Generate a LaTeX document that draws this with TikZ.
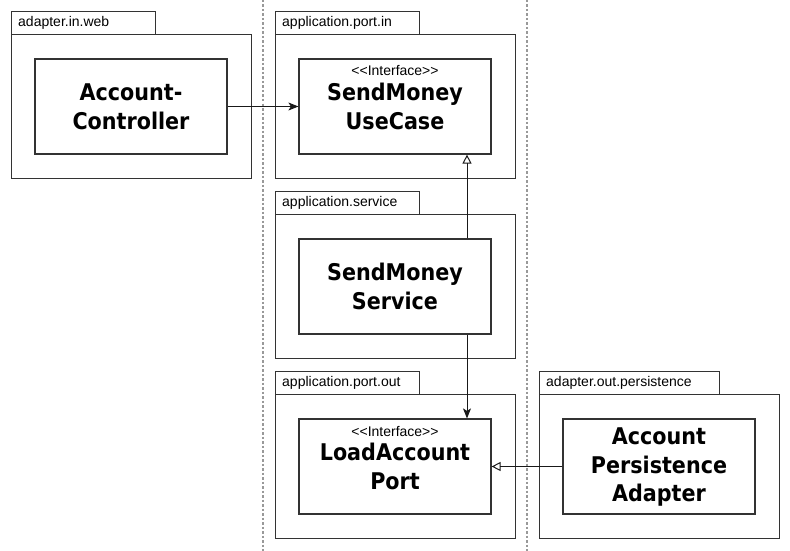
\documentclass[tikz,border=0pt]{standalone}
\usepackage{fontspec}
\setmainfont{Liberation Sans}
\newfontfamily\namefont{DejaVu Sans Condensed}
\usetikzlibrary{arrows.meta}
\definecolor{edge}{HTML}{333333}
\tikzset{
  x=1pt, y=-1pt,
  pkgline/.style={draw=edge, line width=1.2pt, fill=white},
  pkgtab/.style={pkgline, rectangle, minimum width=144pt, minimum height=23pt, inner sep=0pt},
  pkgbody/.style={pkgline, rectangle, minimum width=240pt, minimum height=144pt, inner sep=0pt},
  pkgname/.style={anchor=west, font=\fontsize{14}{16}\selectfont, inner sep=0pt},
  classbox/.style={pkgline, rectangle, minimum width=192pt, minimum height=95pt, inner sep=0pt},
  classname/.style={font=\namefont\bfseries\fontsize{23}{28.5}\selectfont, align=center, inner sep=0pt},
  stereo/.style={font=\fontsize{14}{15}\selectfont, inner sep=0pt},
  layer/.style={draw=gray!80, line width=1.2pt, dash pattern=on 2.5pt off 2pt},
  uses/.style={draw=black!90, line width=1pt, -{Stealth[length=10pt, width=8pt, inset=2.5pt]}},
  realizes/.style={draw=black!90, line width=1pt, -{Triangle[open, length=9pt, width=9pt]}}
}
\begin{document}
\begin{tikzpicture}
\useasboundingbox (0,0) rectangle (790,551);

% layer separators
\coordinate (sepAtop) at (263,0);
\coordinate (sepAbot) at (263,551);
\coordinate (sepBtop) at (527,0);
\coordinate (sepBbot) at (527,551);
\draw[layer] (sepAtop) -- (sepAbot);
\draw[layer] (sepBtop) -- (sepBbot);

% packages: tab + body
\node[pkgtab, anchor=north west] (webTab) at (11,11) {};
\node[pkgbody, anchor=north west] (web) at (11,34) {};
\node[pkgname] at (18,22.5) {adapter.in.web};

\node[pkgtab, anchor=north west] (portInTab) at (275,11) {};
\node[pkgbody, anchor=north west] (portIn) at (275,34) {};
\node[pkgname] at (282,22.5) {application.port.in};

\node[pkgtab, anchor=north west] (serviceTab) at (275,191) {};
\node[pkgbody, anchor=north west] (servicePkg) at (275,214) {};
\node[pkgname] at (282,202.5) {application.service};

\node[pkgtab, anchor=north west] (portOutTab) at (275,371) {};
\node[pkgbody, anchor=north west] (portOut) at (275,394) {};
\node[pkgname] at (282,382.5) {application.port.out};

\node[pkgtab, anchor=north west, minimum width=180pt] (persistTab) at (539,371) {};
\node[pkgbody, anchor=north west] (persistPkg) at (539,394) {};
\node[pkgname] at (546,382.5) {adapter.out.persistence};

% classes
\node[classbox] (controller) at (131,106.5) {};
\node[classname] at (131,107) {Account-\\Controller};

\node[classbox] (usecase) at (395,106.5) {};
\node[stereo] at (395,71) {{<}{<}Interface{>}{>}};
\node[classname] at (395,106.5) {SendMoney\\UseCase};

\node[classbox] (service) at (395,286.5) {};
\node[classname] at (395,286.5) {SendMoney\\Service};

\node[classbox] (loadport) at (395,466.5) {};
\node[stereo] at (395,431) {{<}{<}Interface{>}{>}};
\node[classname] at (395,466.5) {LoadAccount\\Port};

\node[classbox] (adapter) at (659,466.5) {};
\node[classname] at (659,467.5) {Account\\Persistence\\Adapter};

% dependencies
\draw[uses] (controller.east) -- (usecase.west);
\draw[realizes] (service.north -| 467,0) -- (usecase.south -| 467,0);
\draw[uses] (service.south -| 467,0) -- (loadport.north -| 467,0);
\draw[realizes] (adapter.west) -- (loadport.east);
\end{tikzpicture}
\end{document}
